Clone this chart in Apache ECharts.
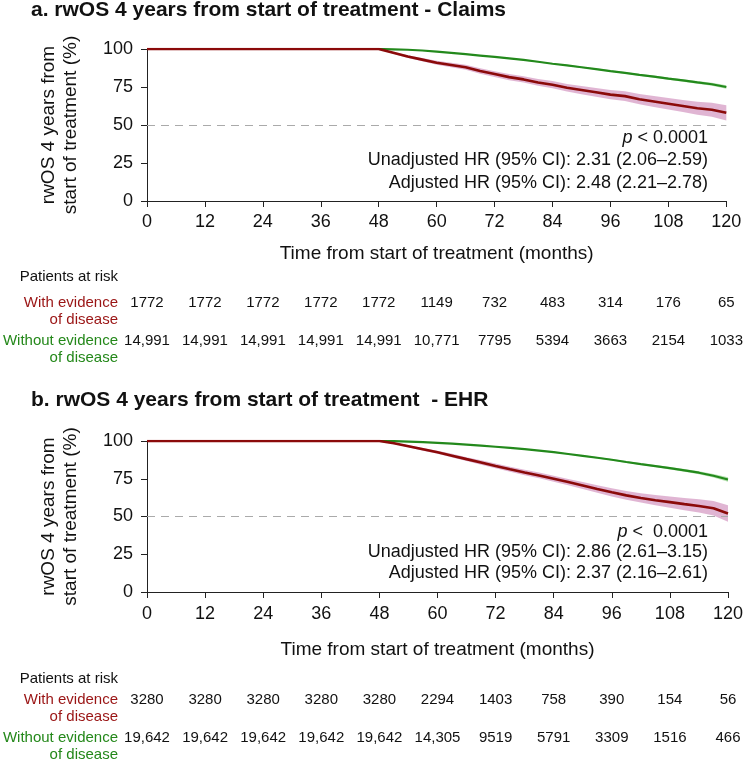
<!DOCTYPE html>
<html>
<head>
<meta charset="utf-8">
<script src="https://cdn.jsdelivr.net/npm/echarts@6/dist/echarts.min.js"></script>
<style>
  html, body { margin: 0; padding: 0; background: #fff; }
  #main { width: 746px; height: 761px; }
</style>
</head>
<body>
<div id="main"></div>
<script>
// time points (months)
var months = [0, 48, 51, 54, 57, 60, 63, 66, 69, 72, 75, 78, 81, 84, 87, 90, 93, 96, 99, 102, 105, 108, 111, 114, 117, 120];

// panel a - Claims
var redA   = [100, 100, 97.5, 95, 93, 91, 89.5, 88, 85.5, 83.5, 81.5, 80, 78, 76.5, 74.5, 73, 71.5, 70, 69, 67, 65.5, 64, 62.5, 61, 60, 58];
var redCiA = [0, 0, 0.6, 0.9, 1.1, 1.3, 1.5, 1.6, 1.8, 1.9, 2.0, 2.1, 2.2, 2.4, 2.5, 2.7, 2.9, 3.0, 3.2, 3.4, 3.6, 3.8, 4.0, 4.3, 4.6, 5.0];
var greenA   = [100, 100, 99.8, 99.5, 99, 98.3, 97.5, 96.6, 95.7, 94.8, 93.8, 92.8, 91.6, 90.3, 89.2, 88, 86.8, 85.5, 84.3, 83, 81.8, 80.5, 79.3, 78, 76.8, 75];
var greenCiA = [0, 0, 0.1, 0.1, 0.1, 0.2, 0.2, 0.2, 0.3, 0.3, 0.3, 0.3, 0.4, 0.4, 0.4, 0.5, 0.5, 0.5, 0.6, 0.6, 0.7, 0.7, 0.8, 0.9, 1.0, 1.2];

// panel b - EHR
var redB   = [100, 100, 98.5, 96.5, 94.5, 92.5, 90.3, 88, 85.8, 83.5, 81.3, 79.2, 77.2, 75, 72.8, 70.5, 68.2, 66, 64, 62.3, 60.8, 59.5, 58.2, 57, 55.5, 52];
var redCiB = [0, 0, 0.5, 0.7, 0.9, 1.0, 1.2, 1.3, 1.5, 1.6, 1.7, 1.8, 1.9, 2.0, 2.1, 2.3, 2.5, 2.7, 2.9, 3.1, 3.4, 3.7, 4.0, 4.4, 4.8, 5.5];
var greenB   = [100, 100, 99.9, 99.6, 99.2, 98.8, 98.3, 97.6, 96.9, 96.2, 95.4, 94.6, 93.6, 92.6, 91.4, 90.2, 88.9, 87.6, 86.1, 84.7, 83.4, 82, 80.6, 79, 77, 74.5];
var greenCiB = [0, 0, 0.1, 0.1, 0.1, 0.1, 0.2, 0.2, 0.2, 0.3, 0.3, 0.3, 0.3, 0.4, 0.4, 0.4, 0.5, 0.5, 0.6, 0.6, 0.7, 0.8, 0.9, 1.0, 1.2, 1.5];

// patients at risk, at 0,12,...,120
var riskWithA    = [1772, 1772, 1772, 1772, 1772, 1149, 732, 483, 314, 176, 65];
var riskWithoutA = [14991, 14991, 14991, 14991, 14991, 10771, 7795, 5394, 3663, 2154, 1033];
var riskWithB    = [3280, 3280, 3280, 3280, 3280, 2294, 1403, 758, 390, 154, 56];
var riskWithoutB = [19642, 19642, 19642, 19642, 19642, 14305, 9519, 5791, 3309, 1516, 466];

var FONT = '"Liberation Sans", Arial, Helvetica, sans-serif';
var RED = '#8b0a0a', PINK = 'rgba(198,120,175,0.55)';
var GREEN = '#23891c', LGREEN = 'rgba(120,200,110,0.55)';
var RED_TXT = '#9a1414', GREEN_TXT = '#24881a';

function pairs(vals) {
    return months.map(function (m, i) { return [m, vals[i]]; });
}
function fmtRisk(n) {
    return n >= 10000 ? n.toLocaleString('en-US') : String(n);
}

function band(gi, vals, half, color) {
    return {
        type: 'custom', xAxisIndex: gi * 3, yAxisIndex: gi, silent: true, z: 1,
        data: [[0, 100]],
        renderItem: function (params, api) {
            var pts = [];
            for (var i = 0; i < months.length; i++) pts.push(api.coord([months[i], Math.min(100, vals[i] + half[i])]));
            for (var j = months.length - 1; j >= 0; j--) pts.push(api.coord([months[j], vals[j] - half[j]]));
            return { type: 'polygon', shape: { points: pts }, style: { fill: color } };
        }
    };
}

function mainX(gi, margin, gap) {
    return {
        type: 'value', gridIndex: gi, min: 0, max: 120, interval: 12,
        name: 'Time from start of treatment (months)', nameLocation: 'middle', nameGap: gap,
        nameTextStyle: { fontFamily: FONT, fontSize: 19, color: '#111' },
        axisLine: { show: true, onZero: false, lineStyle: { color: '#222', width: 1 } },
        axisTick: { show: true, length: 6, lineStyle: { color: '#222' } },
        axisLabel: { margin: margin, fontFamily: FONT, fontSize: 18, color: '#111' },
        splitLine: { show: false }
    };
}
function riskX(gi, offset, arr) {
    return {
        type: 'value', gridIndex: gi, min: 0, max: 120, interval: 12, position: 'bottom', offset: offset,
        axisLine: { show: false }, axisTick: { show: false }, splitLine: { show: false },
        axisLabel: {
            margin: 0, verticalAlign: 'middle', fontFamily: FONT, fontSize: 15, color: '#111',
            showMinLabel: true, showMaxLabel: true,
            formatter: function (v) { return fmtRisk(arr[Math.round(v / 12)]); }
        }
    };
}
function mainY(gi) {
    return {
        type: 'value', gridIndex: gi, min: 0, max: 100, interval: 25,
        name: 'rwOS 4 years from\nstart of treatment (%)', nameLocation: 'middle', nameGap: 65,
        nameTextStyle: { fontFamily: FONT, fontSize: 19, lineHeight: 22, color: '#111' },
        axisLine: { show: true, lineStyle: { color: '#222', width: 1 } },
        axisTick: { show: true, length: 6, lineStyle: { color: '#222' } },
        axisLabel: { margin: 14, fontFamily: FONT, fontSize: 18, color: '#111' },
        splitLine: { show: false }
    };
}

function curves(gi, red, green) {
    return [
        {
            type: 'line', xAxisIndex: gi * 3, yAxisIndex: gi, data: pairs(green), symbol: 'none', z: 3,
            lineStyle: { color: GREEN, width: 2.2 }, silent: true,
            markLine: {
                silent: true, symbol: 'none', label: { show: false }, z: 2,
                lineStyle: { color: '#aaaaaa', type: [8, 6], width: 1.2 },
                data: [{ yAxis: 50 }]
            }
        },
        {
            type: 'line', xAxisIndex: gi * 3, yAxisIndex: gi, data: pairs(red), symbol: 'none', z: 4,
            lineStyle: { color: RED, width: 2.6 }, silent: true
        }
    ];
}

function txt(x, y, s, color, align, size, extra) {
    var st = { text: s, x: x, y: y, fill: color, align: align || 'right', verticalAlign: 'middle',
        font: (size || 15) + 'px ' + FONT };
    if (extra) st.rich = extra;
    return { type: 'text', style: st, silent: true };
}
var richP = { it: { fontStyle: 'italic', fontFamily: FONT, fontSize: 18, fill: '#111' } };
function annot(x, y, s) {
    return { type: 'text', silent: true,
        style: { text: s, x: x, y: y, fill: '#111', align: 'right', verticalAlign: 'middle',
            fontFamily: FONT, fontSize: 18, rich: richP } };
}

function riskLabels(yTop, yWith, yWithout) {
    return [
        txt(118, yTop, 'Patients at risk', '#111'),
        txt(118, yWith, 'With evidence', RED_TXT),
        txt(118, yWith + 17, 'of disease', RED_TXT),
        txt(118, yWithout, 'Without evidence', GREEN_TXT),
        txt(118, yWithout + 17, 'of disease', GREEN_TXT)
    ];
}

var myChart = echarts.init(document.getElementById('main'), null, { renderer: 'canvas' });
var option = {
    animation: false,
    backgroundColor: '#fff',
    title: [
        { text: 'a. rwOS 4 years from start of treatment - Claims', left: 31, top: 0, padding: 0,
          textStyle: { fontFamily: FONT, fontSize: 21, fontWeight: 'bold', color: '#111' } },
        { text: 'b. rwOS 4 years from start of treatment  - EHR', left: 31, top: 390, padding: 0,
          textStyle: { fontFamily: FONT, fontSize: 21, fontWeight: 'bold', color: '#111' } }
    ],
    grid: [
        { left: 147, right: 16, top: 49, height: 152 },
        { left: 147, right: 16, top: 441, height: 151 }
    ],
    xAxis: [
        mainX(0, 12, 43), riskX(0, 102, riskWithA), riskX(0, 140, riskWithoutA),
        mainX(1, 13, 48), riskX(1, 108, riskWithB), riskX(1, 146, riskWithoutB)
    ],
    yAxis: [mainY(0), mainY(1)],
    series: [
        band(0, redA, redCiA, PINK), band(0, greenA, greenCiA, LGREEN),
        band(1, redB, redCiB, PINK), band(1, greenB, greenCiB, LGREEN)
    ].concat(curves(0, redA, greenA), curves(1, redB, greenB)),
    graphic: [
        annot(708, 138, '{it|p} < 0.0001'),
        annot(708, 160, 'Unadjusted HR (95% CI): 2.31 (2.06–2.59)'),
        annot(708, 183, 'Adjusted HR (95% CI): 2.48 (2.21–2.78)'),
        annot(708, 532, '{it|p} <  0.0001'),
        annot(708, 552, 'Unadjusted HR (95% CI): 2.86 (2.61–3.15)'),
        annot(708, 573, 'Adjusted HR (95% CI): 2.37 (2.16–2.61)')
    ].concat(riskLabels(277, 303, 341), riskLabels(679, 700, 738))
};
myChart.setOption(option);
</script>
</body>
</html>
